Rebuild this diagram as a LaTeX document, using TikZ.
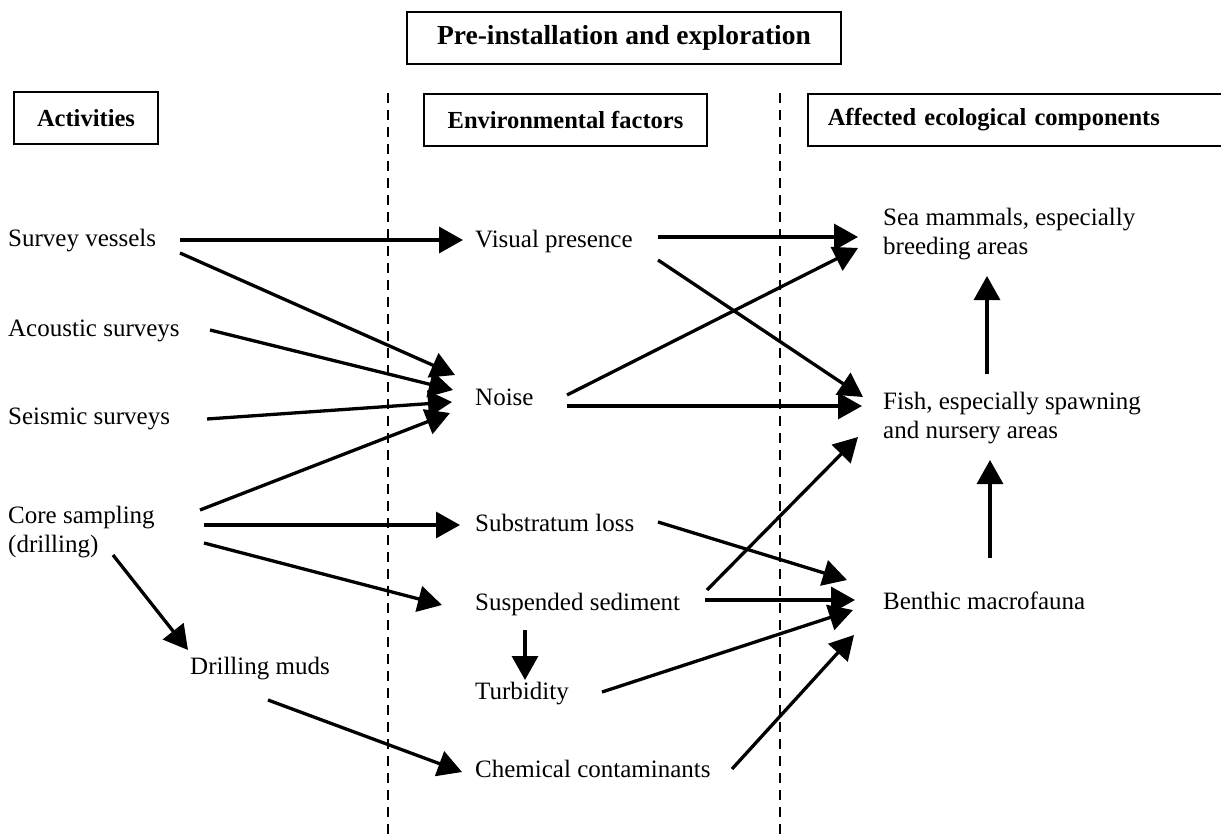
\documentclass[tikz,border=0pt]{standalone}
\usepackage{fontspec}
\setmainfont{Liberation Serif}
\usepackage{tikz}
\usetikzlibrary{arrows.meta}

\tikzset{
  item/.style={anchor=west, inner sep=0pt, align=left},
  head/.style={draw, line width=1.6pt, inner sep=0pt, minimum height=52pt,
    font=\fontsize{24.5}{28}\selectfont\bfseries},
  arr/.style={line width=3.3pt, -{Triangle[length=24pt,width=26pt]}},
  divider/.style={line width=2.2pt, dash pattern=on 10pt off 7pt}
}

\begin{document}
\begin{tikzpicture}[x=1pt, y=-1pt, font=\fontsize{25}{28.5}\selectfont]
      \useasboundingbox (0,0) rectangle (1221,835);

      \node (title) [head, minimum width=434pt, font=\fontsize{27.5}{30}\selectfont\bfseries] at (624,38) {Pre-installation and exploration};
      \node (act) [head, minimum width=144pt] at (86,118) {Activities};
      \node (env) [head, minimum width=283pt] at (565.5,120) {Environmental factors};
      \node (aff) [head, anchor=west, text width=394pt, inner xsep=20pt, align=left] at (807,120) {Affected ecological components};

      \draw[divider] (388,93) -- (388,835);
      \draw[divider] (780,93) -- (780,835);

      \node (sv) [item] at (8,241) {Survey vessels};
      \node (as) [item] at (8,331) {Acoustic surveys};
      \node (ss) [item] at (8,419) {Seismic surveys};
      \node (cs) [item] at (8,532) {Core sampling\\(drilling)};
      \node (dm) [item] at (190,669) {Drilling muds};

      \node (vp) [item] at (475,241) {Visual presence};
      \node (no) [item] at (475,397) {Noise};
      \node (sl) [item] at (475,523) {Substratum loss};
      \node (sd) [item] at (475,604) {Suspended sediment};
      \node (tu) [item] at (475,694) {Turbidity};
      \node (cc) [item] at (475,769) {Chemical contaminants};

      \node (sm) [item] at (883,234) {Sea mammals, especially\\breeding areas};
      \node (fi) [item] at (883,418) {Fish, especially spawning\\and nursery areas};
      \node (bm) [item] at (883,601) {Benthic macrofauna};

      \draw[arr] ([shift={(172,-1)}]sv.west) -- ([shift={(-12,-1)}]vp.west);
      \draw[arr] ([shift={(172,12)}]sv.west) -- ([shift={(-20,-22)}]no.west);
      \draw[arr] ([shift={(202,-1)}]as.west) -- ([shift={(-22,-7)}]no.west);
      \draw[arr] ([shift={(199,0)}]ss.west) -- ([shift={(-23,5)}]no.west);
      \draw[arr] ([shift={(192,-22)}]cs.west) -- ([shift={(-25,16)}]no.west);
      \draw[arr] ([shift={(196,-7)}]cs.west) -- ([shift={(-15,2)}]sl.west);
      \draw[arr] ([shift={(196,11)}]cs.west) -- ([shift={(-33,1)}]sd.west);
      \draw[arr] ([shift={(105,23)}]cs.west) -- ([shift={(-2,-19)}]dm.west);
      \draw[arr] ([shift={(78,31)}]dm.west) -- ([shift={(-13,3)}]cc.west);
      \draw[arr] ([shift={(50,26)}]sd.west) -- ([shift={(50,-14)}]tu.west);

      \draw[arr] ([shift={(183,-4)}]vp.west) -- ([shift={(-25,3)}]sm.west);
      \draw[arr] ([shift={(183,19)}]vp.west) -- ([shift={(-20,-21)}]fi.west);
      \draw[arr] ([shift={(92,-2)}]no.west) -- ([shift={(-25,14)}]sm.west);
      \draw[arr] ([shift={(92,9)}]no.west) -- ([shift={(-21,-12)}]fi.west);
      \draw[arr] ([shift={(183,-1)}]sl.west) -- ([shift={(-36,-21)}]bm.west);
      \draw[arr] ([shift={(232,-14)}]sd.west) -- ([shift={(-25,19)}]fi.west);
      \draw[arr] ([shift={(230,-4)}]sd.west) -- ([shift={(-28,-1)}]bm.west);
      \draw[arr] ([shift={(127,-2)}]tu.west) -- ([shift={(-30,9)}]bm.west);
      \draw[arr] ([shift={(257,0)}]cc.west) -- ([shift={(-29,34)}]bm.west);

      \draw[arr] ([shift={(107,-43)}]bm.west) -- ([shift={(107,42)}]fi.west);
      \draw[arr] ([shift={(104,-44)}]fi.west) -- ([shift={(104,42)}]sm.west);
\end{tikzpicture}
\end{document}
